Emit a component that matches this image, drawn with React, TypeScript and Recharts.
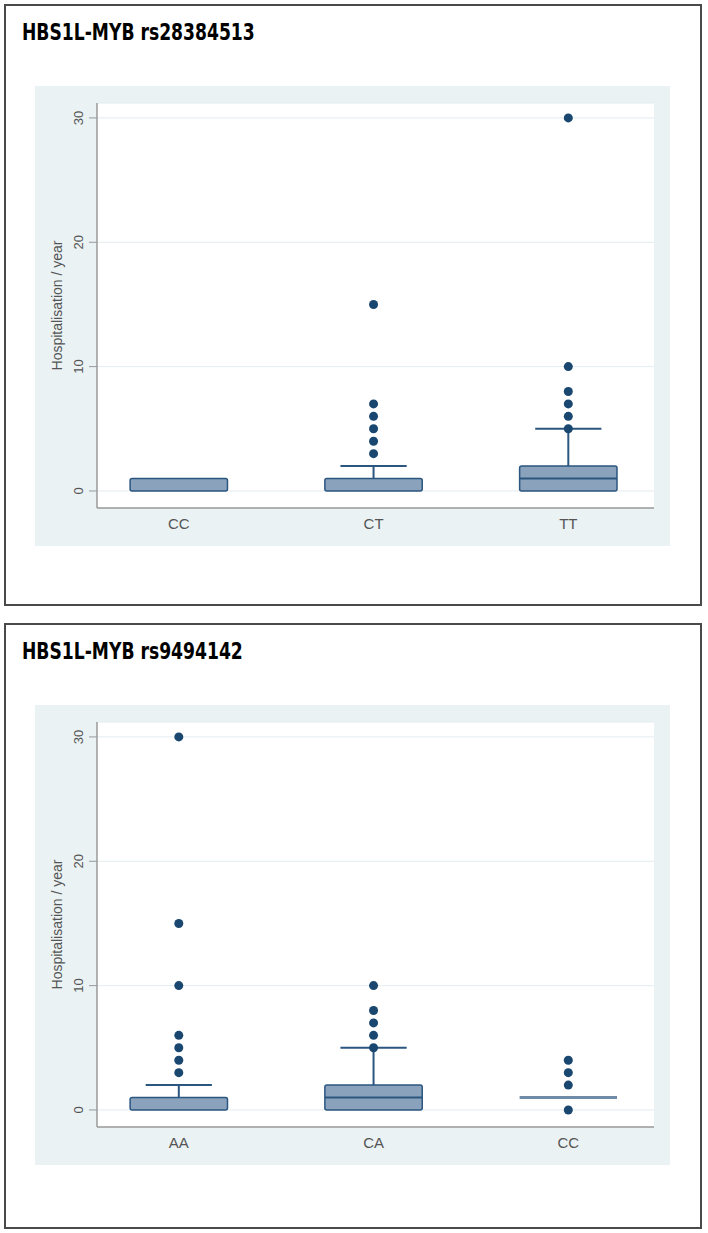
import {
    ComposedChart,
    Scatter,
    XAxis,
    YAxis,
    CartesianGrid,
    ReferenceArea,
    ReferenceLine,
} from 'recharts';

// panel 1: HBS1L-MYB rs28384513
const categoriesA = ['CC', 'CT', 'TT'];
const q1A = [0, 0, 0];
const medianA = [0, 0, 1];
const q3A = [1, 1, 2];
const upperA = [1, 2, 5];
const outliersA = [[], [3, 4, 5, 6, 7, 15], [5, 6, 7, 8, 10, 30]];

// panel 2: HBS1L-MYB rs9494142
const categoriesB = ['AA', 'CA', 'CC'];
const q1B = [0, 0, 1];
const medianB = [0, 1, 1];
const q3B = [1, 2, 1];
const upperB = [2, 5, 1];
const outliersB = [[3, 4, 5, 6, 10, 15, 30], [5, 6, 7, 8, 10], [0, 2, 3, 4]];

const yTicks = [0, 10, 20, 30];

const NAVY = '#1a476f';
const BOX_FILL = '#8aa2bb';
const BOX_STROKE = '#2b5680';
const AXIS = '#9a9a9a';
const BG = '#eaf2f3';

const BOX_HALF = 0.25;
const CAP_HALF = 0.17;

type PanelProps = {
    title: string;
    categories: string[];
    q1: number[];
    median: number[];
    q3: number[];
    upper: number[];
    outliers: number[][];
    top: number;
    height: number;
};

function YTick(props: any) {
    const { x, y, payload } = props;
    return (
        <text
            x={x}
            y={y}
            transform={`rotate(-90 ${x} ${y})`}
            textAnchor="middle"
            fill="#555"
            fontSize={13}
            fontFamily="'Liberation Sans', Arial, sans-serif"
        >
            {payload.value}
        </text>
    );
}

function YLabel(props: any) {
    const { x, y, height } = props.viewBox;
    const cx = x + 22;
    const cy = y + height / 2;
    return (
        <text
            x={cx}
            y={cy}
            transform={`rotate(-90 ${cx} ${cy})`}
            textAnchor="middle"
            dominantBaseline="central"
            fill="#555"
            fontSize={14}
            fontFamily="'Liberation Sans', Arial, sans-serif"
        >
            Hospitalisation / year
        </text>
    );
}

function Dot(props: any) {
    return <circle cx={props.cx} cy={props.cy} r={4.5} fill={NAVY} />;
}

function BoxPanel({ title, categories, q1, median, q3, upper, outliers, top, height }: PanelProps) {
    const points = outliers.flatMap((vals, i) => vals.map((v) => ({ x: i + 1, y: v })));

    return (
        <>
            <div
                style={{
                    position: 'absolute',
                    left: 4,
                    top,
                    width: 698,
                    height,
                    border: '2px solid #4a4a4a',
                    boxSizing: 'border-box',
                }}
            />
            <div
                style={{
                    position: 'absolute',
                    left: 22,
                    top: top + 15,
                    fontFamily: "'Liberation Sans Narrow', 'DejaVu Sans Condensed', Arial, sans-serif",
                    fontWeight: 'bold',
                    fontSize: 23,
                    color: '#000',
                    whiteSpace: 'nowrap',
                    transform: 'scaleX(0.83)',
                    transformOrigin: 'left top',
                }}
            >
                {title}
            </div>
            <div style={{ position: 'absolute', left: 35, top: top + 82, background: BG }}>
                <ComposedChart width={635} height={460} margin={{ top: 17, right: 16, bottom: 0, left: 0 }}>
                    <CartesianGrid vertical={false} stroke="#e2ecef" fill="#ffffff" />
                    <XAxis
                        type="number"
                        dataKey="x"
                        domain={[0.58, 3.44]}
                        allowDataOverflow
                        ticks={[1, 2, 3]}
                        tickFormatter={(v: number) => categories[v - 1]}
                        tickLine={false}
                        tickMargin={4}
                        axisLine={{ stroke: AXIS, strokeWidth: 1.5 }}
                        tick={{ fill: '#555', fontSize: 15, fontFamily: "'Liberation Sans', Arial, sans-serif" }}
                        height={38}
                    />
                    <YAxis
                        type="number"
                        dataKey="y"
                        domain={[-1.37, 31.2]}
                        allowDataOverflow
                        ticks={yTicks}
                        width={62}
                        tickSize={8}
                        tickMargin={6}
                        tickLine={{ stroke: AXIS }}
                        axisLine={{ stroke: AXIS, strokeWidth: 1.5 }}
                        tick={<YTick />}
                        label={{ content: <YLabel /> }}
                    />
                    {categories.map((c, i) => (
                        <ReferenceLine
                            key={`w-${c}`}
                            segment={[
                                { x: i + 1, y: q3[i] },
                                { x: i + 1, y: upper[i] },
                            ]}
                            stroke={BOX_STROKE}
                            strokeWidth={2}
                        />
                    ))}
                    {categories.map((c, i) =>
                        upper[i] > q3[i] ? (
                            <ReferenceLine
                                key={`cap-${c}`}
                                segment={[
                                    { x: i + 1 - CAP_HALF, y: upper[i] },
                                    { x: i + 1 + CAP_HALF, y: upper[i] },
                                ]}
                                stroke={BOX_STROKE}
                                strokeWidth={2}
                            />
                        ) : null
                    )}
                    {categories.map((c, i) =>
                        q3[i] > q1[i] ? (
                            <ReferenceArea
                                key={`box-${c}`}
                                x1={i + 1 - BOX_HALF}
                                x2={i + 1 + BOX_HALF}
                                y1={q1[i]}
                                y2={q3[i]}
                                fill={BOX_FILL}
                                fillOpacity={1}
                                stroke={BOX_STROKE}
                                strokeWidth={1.5}
                                radius={2}
                            />
                        ) : (
                            <ReferenceLine
                                key={`box-${c}`}
                                segment={[
                                    { x: i + 1 - BOX_HALF, y: q1[i] },
                                    { x: i + 1 + BOX_HALF, y: q3[i] },
                                ]}
                                stroke="#6f8ba8"
                                strokeWidth={3}
                            />
                        )
                    )}
                    {categories.map((c, i) =>
                        median[i] > q1[i] && median[i] < q3[i] ? (
                            <ReferenceLine
                                key={`med-${c}`}
                                segment={[
                                    { x: i + 1 - BOX_HALF, y: median[i] },
                                    { x: i + 1 + BOX_HALF, y: median[i] },
                                ]}
                                stroke={BOX_STROKE}
                                strokeWidth={2}
                            />
                        ) : null
                    )}
                    <Scatter data={points} shape={<Dot />} isAnimationActive={false} />
                </ComposedChart>
            </div>
        </>
    );
}

export default function App() {
    return (
        <div style={{ position: 'relative', width: 708, height: 1233, background: '#fff' }}>
            <style>{'body{margin:0}'}</style>
            <BoxPanel
                title="HBS1L-MYB rs28384513"
                categories={categoriesA}
                q1={q1A}
                median={medianA}
                q3={q3A}
                upper={upperA}
                outliers={outliersA}
                top={4}
                height={602}
            />
            <BoxPanel
                title="HBS1L-MYB rs9494142"
                categories={categoriesB}
                q1={q1B}
                median={medianB}
                q3={q3B}
                upper={upperB}
                outliers={outliersB}
                top={623}
                height={606}
            />
        </div>
    );
}
